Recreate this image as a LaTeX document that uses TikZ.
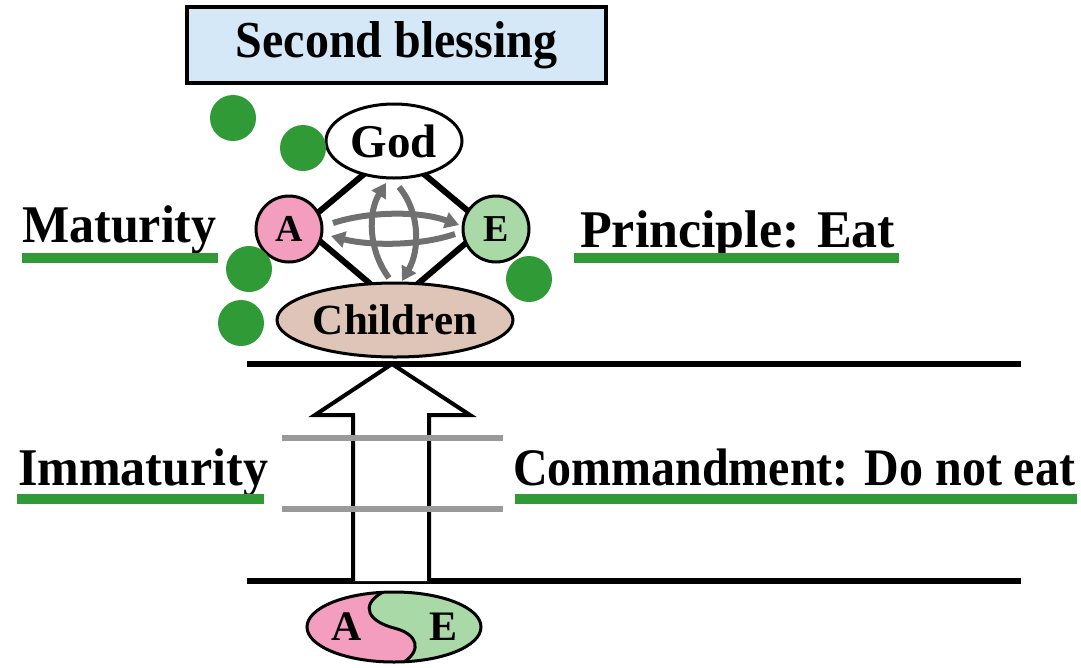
\documentclass[tikz,border=0pt]{standalone}
\usepackage{fontspec}
\setmainfont{Liberation Serif}
\usetikzlibrary{arrows.meta,shapes.geometric,calc}
\definecolor{boxblue}{HTML}{D5E8F8}
\definecolor{pinkA}{HTML}{F39DBF}
\definecolor{greenE}{HTML}{A9D9A7}
\definecolor{tanC}{HTML}{DFC4B8}
\definecolor{dotgreen}{HTML}{2F9A36}
\definecolor{garrow}{HTML}{707070}
\definecolor{gline}{HTML}{9A9A9A}
\begin{document}
\begin{tikzpicture}[x=1pt,y=-1pt,
  lbl/.style={font=\fontsize{50}{55}\selectfont\bfseries, inner sep=0pt, anchor=base west},
  uline/.style={draw=dotgreen, line width=10pt},
  gdot/.style={circle, fill=dotgreen, minimum size=46pt, inner sep=0pt},
  oval/.style={ellipse, draw=black, line width=3pt, inner sep=0pt},
  ball/.style={circle, draw=black, line width=3pt, inner sep=0pt, minimum size=66pt, font=\fontsize{38}{40}\selectfont\bfseries},
  garr/.style={draw=garrow, line width=6pt, -{Triangle[length=14pt,width=16pt]}},
  blackline/.style={draw=black, line width=6pt},
  gbar/.style={draw=gline, line width=6pt}]
\useasboundingbox (0,0) rectangle (1081,667);

% title box
\node[draw=black, line width=4pt, fill=boxblue, minimum width=419pt, minimum height=76pt, inner sep=0pt,
  font=\fontsize{48}{52}\selectfont\bfseries] (title) at (396.5,45) {\scalebox{1}[1.08]{Second blessing}};

% diamond
\coordinate (dT) at (394,149);
\coordinate (dL) at (302,226);
\coordinate (dB) at (394,304);
\coordinate (dR) at (486,226);
\draw[line width=6pt, line join=miter] (dT) -- (dL) -- (dB) -- (dR) -- cycle;

% grey circulating arrows
\draw[garr] (333,223) .. controls (370,211) and (420,211) .. (459,225);
\draw[garr] (455,234) .. controls (420,246) and (370,246) .. (331,236);
\draw[garr] (389,278) .. controls (368,250) and (368,212) .. (386,183);
\draw[garr] (399,187) .. controls (420,212) and (420,250) .. (402,281);

% nodes
\node[oval, fill=white, minimum width=136pt, minimum height=74pt, font=\fontsize{47}{50}\selectfont\bfseries] (god) at (394,141) {God};
\node[ball, fill=pinkA] (a) at (289,229) {A};
\node[ball, fill=greenE] (e) at (496,229) {E};
\node[oval, fill=tanC, minimum width=236pt, minimum height=74pt, font=\fontsize{43}{46}\selectfont\bfseries] (children) at (395,320) {Children};

% horizontal levels
\coordinate (tl) at (247,364);
\coordinate (tr) at (1021,364);
\coordinate (bl) at (247,581);
\coordinate (br) at (1021,581);
\draw[blackline] (tl) -- (tr);
\draw[blackline] (bl) -- (br);

% big hollow arrow
\coordinate (s1) at (353,581);
\coordinate (s2) at (353,415);
\coordinate (h1) at (315,415);
\coordinate (tip) at (392,364);
\coordinate (h2) at (470,415);
\coordinate (s3) at (429,415);
\coordinate (s4) at (429,581);
\draw[line width=4pt, line join=miter, fill=white] (s1) -- (s2) -- (h1) -- (tip) -- (h2) -- (s3) -- (s4);

% grey bars
\draw[gbar] (282,438) -- (503,438);
\draw[gbar] (282,509) -- (503,509);

% bottom A/E ellipse
\node[ellipse, minimum width=174pt, minimum height=70pt, inner sep=0pt] (ae) at (394,627) {};
\begin{scope}
  \clip (ae.center) ellipse [x radius=87pt, y radius=35pt];
  \fill[greenE] (ae.center) ellipse [x radius=87pt, y radius=35pt];
  \fill[pinkA] (300,580) -- (383,580) -- (383,592) .. controls (358,606) and (370,622) .. (394,628)
     .. controls (418,634) and (422,650) .. (404,662) -- (404,680) -- (300,680) -- cycle;
  \draw[line width=3pt] (383,592) .. controls (358,606) and (370,622) .. (394,628)
     .. controls (418,634) and (422,650) .. (404,662);
\end{scope}
\draw[line width=3pt] (ae.center) ellipse [x radius=87pt, y radius=35pt];
\node[font=\fontsize{42}{44}\selectfont\bfseries, inner sep=0pt] (aa) at (347,627) {A};
\node[font=\fontsize{42}{44}\selectfont\bfseries, inner sep=0pt] (ee) at (444,627) {E};

% labels
\node[lbl] (mat) at (22,242) {\scalebox{1}[1.06]{Maturity}};
\draw[uline] (22,258) -- (218,258);
\node[lbl] (prin) at (580,247) {\scalebox{1.04}[1.06]{Principle: Eat}};
\draw[uline] (574,258) -- (899,258);
\node[lbl] (imm) at (18,485) {\scalebox{1}[1.06]{Immaturity}};
\draw[uline] (17,499) -- (264,499);
\node[lbl] (comm) at (513,485) {\resizebox{562pt}{!}{\scalebox{1}[1.1]{Commandment: Do not eat}}};
\draw[uline] (515,499) -- (1077,499);

% green dots
\node[gdot] (g1) at (233,118) {};
\node[gdot] (g2) at (303,148) {};
\node[gdot] (g3) at (249,269) {};
\node[gdot] (g4) at (241,323) {};
\node[gdot] (g5) at (529,279) {};
\end{tikzpicture}
\end{document}
